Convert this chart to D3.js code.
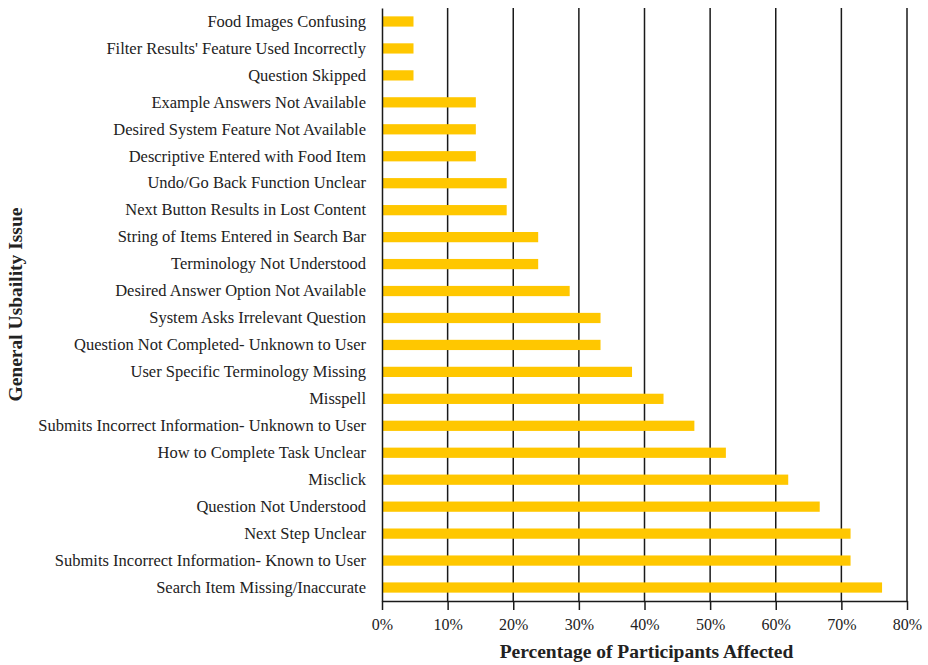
<!DOCTYPE html>
<html>
<head>
<meta charset="utf-8">
<script src="https://cdn.jsdelivr.net/npm/d3@7"></script>
<style>
  html, body { margin: 0; padding: 0; background: #fff; }
  svg { display: block; }
</style>
</head>
<body>
<svg id="chart" width="928" height="665"></svg>
<script>
// Usability issues, listed from top to bottom of the chart
const issues = [
  "Food Images Confusing",
  "Filter Results' Feature Used Incorrectly",
  "Question Skipped",
  "Example Answers Not Available",
  "Desired System Feature Not Available",
  "Descriptive Entered with Food Item",
  "Undo/Go Back Function Unclear",
  "Next Button Results in Lost Content",
  "String of Items Entered in Search Bar",
  "Terminology Not Understood",
  "Desired Answer Option Not Available",
  "System Asks Irrelevant Question",
  "Question Not Completed- Unknown to User",
  "User Specific Terminology Missing",
  "Misspell",
  "Submits Incorrect Information- Unknown to User",
  "How to Complete Task Unclear",
  "Misclick",
  "Question Not Understood",
  "Next Step Unclear",
  "Submits Incorrect Information- Known to User",
  "Search Item Missing/Inaccurate"
];

// Share of participants affected (%)
const percentAffected = [
  4.8, 4.8, 4.8, 14.3, 14.3, 14.3, 19.0, 19.0, 23.8, 23.8, 28.6,
  33.3, 33.3, 38.1, 42.9, 47.6, 52.4, 61.9, 66.7, 71.4, 71.4, 76.2
];

// Axis ticks (%)
const xTicks = [0, 10, 20, 30, 40, 50, 60, 70, 80];

const data = issues.map((name, i) => ({ name, value: percentAffected[i] }));

const svg = d3.select("#chart");
const margin = { top: 8, right: 21, bottom: 64, left: 382 };
const width = 928 - margin.left - margin.right;
const height = 665 - margin.top - margin.bottom;

const g = svg.append("g").attr("transform", `translate(${margin.left},${margin.top})`);

const x = d3.scaleLinear().domain([0, 80]).range([0, width]);
const y = d3.scaleBand().domain(issues).range([0, height]).paddingInner(0.62).paddingOuter(0.31);

const serif = "'Liberation Serif', 'DejaVu Serif', serif";

// Vertical gridlines
g.append("g")
  .selectAll("line")
  .data(xTicks.slice(1))
  .join("line")
  .attr("x1", d => x(d)).attr("x2", d => x(d))
  .attr("y1", 0).attr("y2", height)
  .attr("stroke", "#1a1a1a")
  .attr("stroke-width", 1.5);

// Bars
g.append("g")
  .selectAll("rect")
  .data(data)
  .join("rect")
  .attr("x", x(0) + 1)
  .attr("y", d => y(d.name))
  .attr("width", d => x(d.value) - x(0) - 1)
  .attr("height", y.bandwidth())
  .attr("fill", "#ffc700");

// Bottom axis
const xAxis = g.append("g")
  .attr("transform", `translate(0,${height})`)
  .call(d3.axisBottom(x).tickValues(xTicks).tickFormat(d => d + "%").tickSize(9).tickPadding(9).tickSizeOuter(0));
xAxis.select(".domain").attr("stroke", "#1a1a1a").attr("stroke-width", 1.5);
xAxis.selectAll(".tick line").attr("stroke", "#1a1a1a").attr("stroke-width", 1.5);
xAxis.selectAll(".tick text")
  .attr("font-family", serif).attr("font-size", 16).attr("fill", "#222");

// Left axis
const yAxis = g.append("g")
  .call(d3.axisLeft(y).tickSize(0).tickPadding(16));
yAxis.select(".domain").attr("stroke", "#1a1a1a").attr("stroke-width", 1.5);
yAxis.selectAll(".tick text")
  .attr("font-family", serif).attr("font-size", 16.5).attr("fill", "#222");

// Axis titles
svg.append("text")
  .attr("x", margin.left + width / 2 + 2)
  .attr("y", 658)
  .attr("text-anchor", "middle")
  .attr("font-family", serif)
  .attr("font-weight", "bold")
  .attr("font-size", 19.5)
  .attr("fill", "#222")
  .text("Percentage of Participants Affected");

svg.append("text")
  .attr("transform", `translate(22,${margin.top + height / 2}) rotate(-90)`)
  .attr("text-anchor", "middle")
  .attr("font-family", serif)
  .attr("font-weight", "bold")
  .attr("font-size", 19.5)
  .attr("fill", "#222")
  .text("General Usbaility Issue");
</script>
</body>
</html>
